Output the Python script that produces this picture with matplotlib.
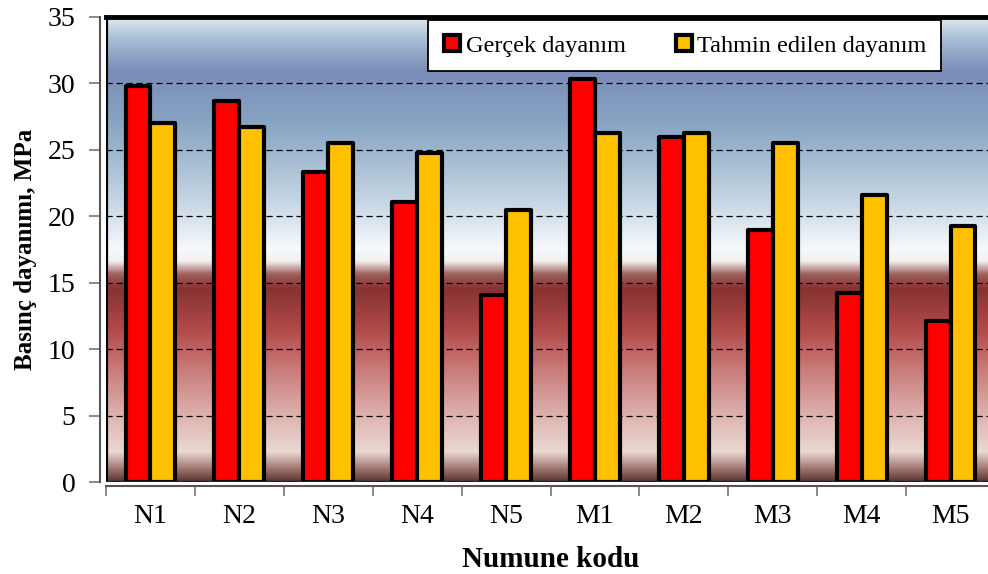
import numpy as np
import matplotlib
matplotlib.use("Agg")
import matplotlib.pyplot as plt
from matplotlib.colors import LinearSegmentedColormap
from matplotlib.lines import Line2D

categories = ["N1", "N2", "N3", "N4", "N5", "M1", "M2", "M3", "M4", "M5"]
gercek = [29.8, 28.7, 23.3, 21.1, 14.1, 30.3, 26.0, 19.0, 14.2, 12.1]
tahmin = [27.0, 26.7, 25.5, 24.8, 20.5, 26.3, 26.3, 25.5, 21.6, 19.3]
yticks = [0, 5, 10, 15, 20, 25, 30, 35]
series_names = ["Gerçek dayanım", "Tahmin edilen dayanım"]
colors = ["#ff0000", "#ffc000"]

plt.rcParams['font.family'] = ['Liberation Serif', 'DejaVu Serif']

fig = plt.figure(figsize=(9.88, 5.74), dpi=100)
W, H = 988, 574
left, right, top, bottom = 106, 995, 17, 482
ax = fig.add_axes([left / W, 1 - bottom / H, (right - left) / W, (bottom - top) / H])

ymax = 35.0
xmin, xmax = -0.5, len(categories) - 0.5

# background gradient (value -> colour)
stops = [
    (0.0, "#5a3a36"), (0.8, "#9a6e66"), (2.2, "#ead8d3"), (4.5, "#e0b9b5"),
    (8.5, "#c97a78"), (11.5, "#b04a48"), (14.5, "#873232"), (15.6, "#9c5e5a"),
    (16.6, "#f2eeee"), (17.5, "#f7f9fc"), (21.0, "#c8d7e5"), (27.0, "#87a5c3"),
    (31.0, "#7a8db7"), (33.5, "#a9bfd4"), (35.0, "#dde8f0"),
]
cmap = LinearSegmentedColormap.from_list("bg", [(v / ymax, c) for v, c in stops])
grad = np.linspace(0, 1, 600).reshape(-1, 1)
ax.imshow(grad, extent=[xmin, xmax, 0, ymax], origin="lower", aspect="auto",
          cmap=cmap, zorder=0, interpolation="bilinear")

x = np.arange(len(categories))
bw = 0.28
ax.bar(x - bw / 2, gercek, bw, color=colors[0], edgecolor="black", linewidth=3.0,
       zorder=3, joinstyle="round")
ax.bar(x + bw / 2, tahmin, bw, color=colors[1], edgecolor="black", linewidth=3.0,
       zorder=3, joinstyle="round")

ax.set_xlim(xmin, xmax)
ax.set_ylim(0, ymax)

# grid
for yv in yticks[1:-1]:
    ax.axhline(yv, color="black", lw=0.9, ls=(0, (5, 3)), zorder=1)

# ticks
ax.set_yticks(yticks)
ax.set_yticklabels([str(v) for v in yticks])
ax.set_xticks(x)
ax.set_xticklabels(categories)
ax.set_xticks(np.arange(xmin, xmax + 0.01, 1.0), minor=True)
ax.tick_params(axis="x", which="major", length=0, pad=13, labelsize=20)
ax.tick_params(axis="x", which="minor", length=7, width=1.2, color="#777777", direction="out")
ax.tick_params(axis="y", length=8, width=1.2, color="#777777", direction="out", pad=10,
               labelsize=20)

# spines
ax.spines["right"].set_visible(False)
ax.spines["top"].set_linewidth(3.5)
ax.spines["top"].set_color("black")
ax.spines["left"].set_color("#555555")
ax.spines["left"].set_linewidth(1.5)
ax.spines["left"].set_position(("outward", 4))
ax.spines["bottom"].set_color("#555555")
ax.spines["bottom"].set_linewidth(1.5)
ax.spines["bottom"].set_position(("outward", 3))
ax.axvline(xmin, color="black", lw=3.0, zorder=4)
ax.axhline(0, color="#222222", lw=2.5, zorder=4)

ax.set_ylabel("Basınç dayanımı, MPa", fontsize=18, fontweight="bold", labelpad=8)
ax.set_xlabel("Numune kodu", fontsize=21, fontweight="bold", labelpad=12)

handles = [Line2D([], [], marker="s", ls="none", markersize=11, markerfacecolor=c,
                  markeredgecolor="black", markeredgewidth=3) for c in colors]
leg = fig.legend(handles, series_names, ncol=2, loc="upper left",
                 bbox_to_anchor=(428 / W, 1 - 20 / H, (941 - 428) / W, 0), mode="expand",
                 borderaxespad=0, fontsize=17.5, frameon=True, fancybox=False,
                 handletextpad=0.15, columnspacing=1.0, borderpad=0.6, handlelength=0.8)
leg.get_frame().set_edgecolor("black")
leg.get_frame().set_linewidth(1.3)
leg.get_frame().set_facecolor("white")
leg.get_frame().set_alpha(1)

fig.savefig("out.png", dpi=100)
